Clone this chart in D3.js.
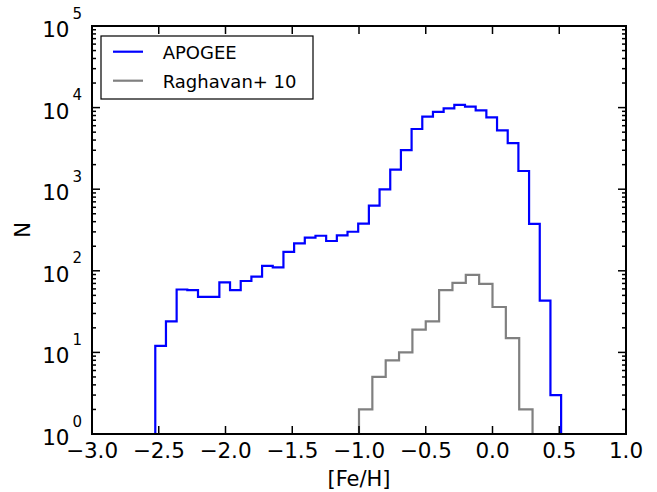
<!DOCTYPE html>
<html>
<head>
<meta charset="utf-8">
<script src="https://cdn.jsdelivr.net/npm/d3@7"></script>
<style>
  body { margin: 0; background: #fff; }
  svg { font-family: "DejaVu Sans", sans-serif; }
</style>
</head>
<body>
<div id="chart"></div>
<script>
// histogram data
const apogeeStart = -2.526;
const apogeeWidth = 0.08;
const apogeeCounts = [12, 24, 59, 58, 48, 48, 72, 58, 75, 85, 115, 110, 171,
	217, 255, 269, 232, 272, 301, 378, 628, 997, 1734,
	3020, 5470, 7740, 8840, 9800, 10770, 10260, 9270, 7610, 5270, 3680,
	1671, 375, 43, 3];

const raghavanStart = -1.0;
const raghavanWidth = 0.1;
const raghavanCounts = [2, 5, 8, 10, 19, 24, 58, 71, 89, 69, 36, 15, 2];

const xTicks = [-3.0, -2.5, -2.0, -1.5, -1.0, -0.5, 0.0, 0.5, 1.0];
const yExponents = [0, 1, 2, 3, 4, 5];
const seriesNames = ["APOGEE", "Raghavan+ 10"];
const seriesColors = ["#0000ff", "#808080"];

const width = 657;
const height = 492;
const margin = {top: 26, right: 31, bottom: 58, left: 92};
const innerW = width - margin.left - margin.right;
const innerH = height - margin.top - margin.bottom;

const svg = d3.select("#chart")
	.append("svg")
		.attr("width", width)
		.attr("height", height);

const x = d3.scaleLinear().domain([-3, 1]).range([0, innerW]);
const y = d3.scaleLog().domain([1, 1e5]).range([innerH, 0]);

const g = svg.append("g")
	.attr("transform", `translate(${margin.left},${margin.top})`);

g.append("clipPath").attr("id", "plotclip")
	.append("rect").attr("width", innerW).attr("height", innerH);

// step outline of a histogram, dropping to the bottom at both ends
function stepPoints(start, w, counts) {
	const pts = [[x(start), innerH + 5]];
	counts.forEach((c, i) => {
		pts.push([x(start + i * w), y(c)]);
		pts.push([x(start + (i + 1) * w), y(c)]);
	});
	pts.push([x(start + counts.length * w), innerH + 5]);
	return pts;
}

const line = d3.line();
const hists = [
	stepPoints(apogeeStart, apogeeWidth, apogeeCounts),
	stepPoints(raghavanStart, raghavanWidth, raghavanCounts)
];

hists.forEach((pts, i) => {
	g.append("path")
		.attr("clip-path", "url(#plotclip)")
		.attr("d", line(pts))
		.style("fill", "none")
		.style("stroke", seriesColors[i])
		.style("stroke-width", 2.2);
});

// ticks (inward, all four sides)
const tickG = g.append("g").style("stroke", "#000").style("stroke-width", 1.5);
xTicks.forEach((t) => {
	tickG.append("line").attr("x1", x(t)).attr("x2", x(t)).attr("y1", innerH).attr("y2", innerH - 8);
	tickG.append("line").attr("x1", x(t)).attr("x2", x(t)).attr("y1", 0).attr("y2", 8);
});
yExponents.forEach((e) => {
	const v = Math.pow(10, e);
	tickG.append("line").attr("x1", 0).attr("x2", 8).attr("y1", y(v)).attr("y2", y(v));
	tickG.append("line").attr("x1", innerW).attr("x2", innerW - 8).attr("y1", y(v)).attr("y2", y(v));
	if (e < 5) {
		d3.range(2, 10).forEach((m) => {
			const mv = m * v;
			tickG.append("line").attr("x1", 0).attr("x2", 4).attr("y1", y(mv)).attr("y2", y(mv));
			tickG.append("line").attr("x1", innerW).attr("x2", innerW - 4).attr("y1", y(mv)).attr("y2", y(mv));
		});
	}
});

// frame
g.append("rect")
	.attr("width", innerW)
	.attr("height", innerH)
	.style("fill", "none")
	.style("stroke", "#000")
	.style("stroke-width", 2);

// tick labels
xTicks.forEach((t) => {
	g.append("text")
		.attr("x", x(t))
		.attr("y", innerH + 24)
		.attr("text-anchor", "middle")
		.style("font-size", "21.5px")
		.text(d3.format(".1f")(t).replace("-", "\u2212"));
});
yExponents.forEach((e) => {
	const yy = y(Math.pow(10, e));
	g.append("text")
		.attr("x", -22.5)
		.attr("y", yy + 11)
		.attr("text-anchor", "end")
		.style("font-size", "21.5px")
		.text("10");
	g.append("text")
		.attr("x", -19.5)
		.attr("y", yy - 7.5)
		.attr("text-anchor", "start")
		.style("font-size", "15px")
		.text(e);
});

// axis labels
g.append("text")
	.attr("x", innerW / 2)
	.attr("y", innerH + 52)
	.attr("text-anchor", "middle")
	.style("font-size", "21px")
	.text("[Fe/H]");
svg.append("text")
	.attr("transform", `translate(30,${margin.top + innerH / 2}) rotate(-90)`)
	.attr("text-anchor", "middle")
	.style("font-size", "21px")
	.text("N");

// legend
const legend = svg.append("g");
legend.append("rect")
	.attr("x", 101).attr("y", 36)
	.attr("width", 212).attr("height", 63)
	.style("fill", "#fff")
	.style("stroke", "#000")
	.style("stroke-width", 1.2);
seriesNames.forEach((name, i) => {
	const ly = 51.7 + i * 29;
	legend.append("line")
		.attr("x1", 113).attr("x2", 143)
		.attr("y1", ly).attr("y2", ly)
		.style("stroke", seriesColors[i])
		.style("stroke-width", 2.2);
	legend.append("text")
		.attr("x", 162.7)
		.attr("y", ly + 7)
		.style("font-size", "18px")
		.text(name);
});
</script>
</body>
</html>
